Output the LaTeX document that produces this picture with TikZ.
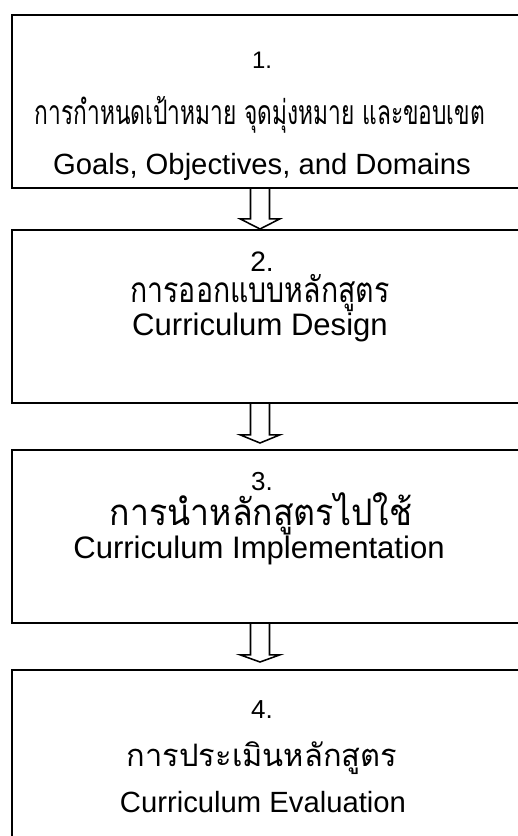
\documentclass[tikz,border=0pt]{standalone}
\usepackage{fontspec}
\setmainfont{Liberation Sans}
\newfontfamily\thaifont[Script=Thai]{Loma}
\usetikzlibrary{calc}

\tikzset{
	stage/.style={draw=black,line width=1.1pt,anchor=north west,minimum width=13.5cm,minimum height=4.33cm,inner sep=0pt},
	numtxt/.style={anchor=base,inner sep=0pt,font=\fontsize{#1}{#1}\selectfont},
	numtxt/.default=18.5,
	thaitxt/.style={anchor=base,inner sep=0pt,font=\thaifont\fontsize{#1}{#1}\selectfont},
	thaitxt/.default=24,
	engtxt/.style={anchor=base,inner sep=0pt,font=\fontsize{#1}{#1}\selectfont},
	engtxt/.default=22.1,
	hollow/.style={draw=black,line width=1.1pt,line join=miter}
}

\begin{document}
\begin{tikzpicture}[x=0.025cm,y=-0.025cm]

	\useasboundingbox (0,0) rectangle (518,836);
	\clip (0,0) rectangle (518,836);

	% boxes
	\node[stage] (b1) at (11,14) {};
	\node[stage] (b2) at (11,229) {};
	\node[stage] (b3) at (11,449) {};
	\node[stage] (b4) at (11,669) {};

	% box 1
	\node[numtxt=17] (n1) at (262,68) {1.};
	\node[thaitxt=24] (t1) at (260,124) {\resizebox{11.25cm}{\height}{การกำหนดเป้าหมาย จุดมุ่งหมาย และขอบเขต}};
	\node[engtxt=20.8] (e1) at (262,174) {Goals, Objectives, and Domains};

	% box 2
	\node[numtxt=20] (n2) at (262,271) {2.};
	\node[thaitxt=25] (t2) at (260,302) {\resizebox{6.475cm}{\height}{การออกแบบหลักสูตร}};
	\node[engtxt] (e2) at (260,335) {Curriculum Design};

	% box 3
	\node[numtxt] (n3) at (262,490) {3.};
	\node[thaitxt=26] (t3) at (261,525) {\resizebox{7.55cm}{\height}{การนำหลักสูตรไปใช้}};
	\node[engtxt] (e3) at (259,558) {Curriculum Implementation};

	% box 4
	\node[numtxt] (n4) at (262,718) {4.};
	\node[thaitxt=22] (t4) at (262,766) {\resizebox{6.75cm}{\height}{การประเมินหลักสูตร}};
	\node[engtxt=20.8] (e4) at (263,812) {Curriculum Evaluation};

	% hollow arrows between the boxes
	\draw[hollow] ($(b1.south west)+(239.5,0)$) -- ++(0,30) -- ++(-10.5,0)
		-- ($(b2.north west)+(249,0)$) -- ($(b1.south west)+(269,30)$) -- ++(-10.5,0) -- ++(0,-30);
	\draw[hollow] ($(b2.south west)+(239.5,0)$) -- ++(0,31) -- ++(-10.5,0)
		-- ($(b3.north west)+(249,-6)$) -- ($(b2.south west)+(269,31)$) -- ++(-10.5,0) -- ++(0,-31);
	\draw[hollow] ($(b3.south west)+(239.5,0)$) -- ++(0,31) -- ++(-10.5,0)
		-- ($(b4.north west)+(249,-7)$) -- ($(b3.south west)+(269,31)$) -- ++(-10.5,0) -- ++(0,-31);

\end{tikzpicture}
\end{document}
